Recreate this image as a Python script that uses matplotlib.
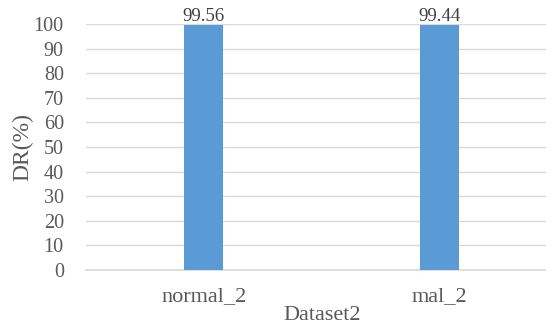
import matplotlib

matplotlib.use("Agg")
import matplotlib.pyplot as plt

categories = ["normal_2", "mal_2"]
dr_values = [99.56, 99.44]
y_ticks = list(range(0, 101, 10))

plt.rcParams["font.family"] = ["Liberation Serif", "DejaVu Serif"]
TEXT_GRAY = "#595959"

fig = plt.figure(figsize=(5.46, 3.25), dpi=100)
ax = fig.add_axes([0.1575, 0.169, 0.864, 0.757])

x = range(len(categories))
ax.bar(x, dr_values, width=0.165, color="#5B9BD5", zorder=3)
for xi, v in zip(x, dr_values):
    ax.text(xi, v, f"{v:.2f}", ha="center", va="bottom", fontsize=13.5, color="#404040")

ax.set_xlim(-0.5, 1.5)
ax.set_ylim(0, 100)
ax.set_yticks(y_ticks)
ax.set_xticks(list(x))
ax.set_xticklabels(categories)
ax.tick_params(axis="y", length=0, labelsize=14.5, colors=TEXT_GRAY, pad=16)
ax.tick_params(axis="x", length=0, labelsize=16, colors=TEXT_GRAY, pad=12)
ax.grid(axis="y", color="#D9D9D9", linewidth=1.0, zorder=0)
for side in ["top", "right", "left"]:
    ax.spines[side].set_visible(False)
ax.spines["bottom"].set_color("#D9D9D9")
ax.spines["bottom"].set_linewidth(1.2)

ax.set_xlabel("Dataset2", fontsize=16, color=TEXT_GRAY, labelpad=0)
ax.set_ylabel("DR(%)", fontsize=17, color=TEXT_GRAY, labelpad=0)

fig.savefig("out.png", dpi=100)
